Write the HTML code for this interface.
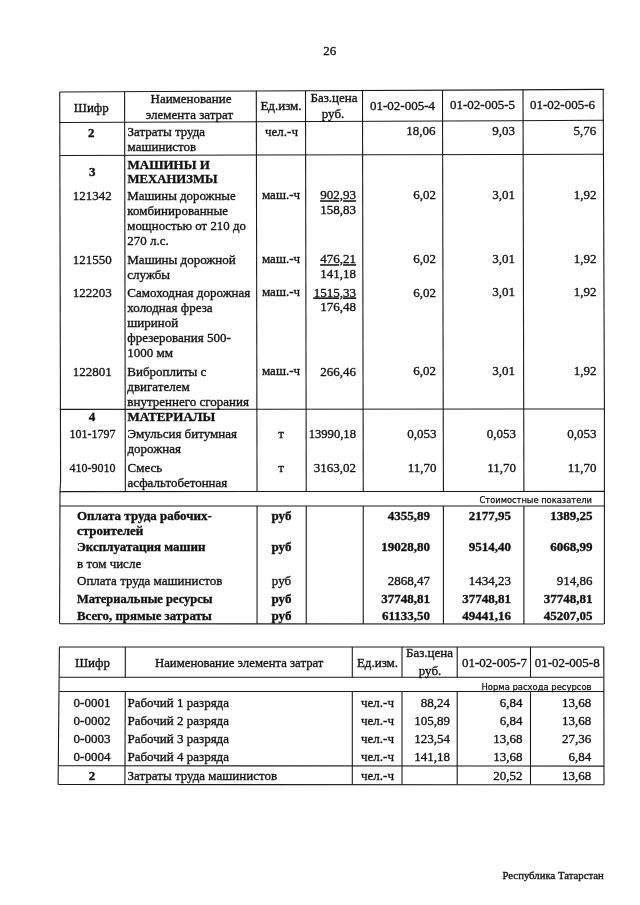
<!DOCTYPE html>
<html lang="ru"><head><meta charset="utf-8"><title>26</title>
<style>
html,body{margin:0;padding:0;background:#fff}
body{width:640px;height:905px;overflow:hidden}
svg{display:block}
.t{font-family:"Liberation Serif","DejaVu Serif",serif;fill:#111;stroke:#111;stroke-width:.33px}
.s{font-family:"DejaVu Sans Condensed","DejaVu Sans","Liberation Sans",sans-serif;fill:#111;stroke:#111;stroke-width:.25px}
.b{font-weight:bold}
.u{text-decoration:underline}
</style></head><body>
<svg width="640" height="905" viewBox="0 0 640 905">
<rect width="640" height="905" fill="#fff"/>
<g stroke-linecap="butt">
<line x1="59.80" y1="92.00" x2="604.00" y2="89.40" stroke="#1a1a1a" stroke-width="1.10"/>
<line x1="59.80" y1="122.50" x2="604.00" y2="120.30" stroke="#1a1a1a" stroke-width="1.10"/>
<line x1="59.80" y1="155.50" x2="604.00" y2="154.30" stroke="#1a1a1a" stroke-width="1.10"/>
<line x1="59.80" y1="409.40" x2="604.00" y2="409.00" stroke="#1a1a1a" stroke-width="1.10"/>
<line x1="59.80" y1="623.80" x2="604.00" y2="624.00" stroke="#1a1a1a" stroke-width="1.10"/>
<line x1="59.80" y1="491.60" x2="604.00" y2="491.40" stroke="#1a1a1a" stroke-width="1.10"/>
<line x1="59.80" y1="506.00" x2="604.00" y2="506.00" stroke="#1a1a1a" stroke-width="1.10"/>
<line x1="59.70" y1="92.00" x2="60.60" y2="480.00" stroke="#1a1a1a" stroke-width="1.10"/>
<line x1="60.60" y1="480.00" x2="60.00" y2="492.00" stroke="#1a1a1a" stroke-width="1.10"/>
<line x1="60.00" y1="492.00" x2="59.60" y2="623.80" stroke="#1a1a1a" stroke-width="1.10"/>
<line x1="603.20" y1="89.40" x2="604.40" y2="409.00" stroke="#1a1a1a" stroke-width="1.10"/>
<line x1="604.40" y1="409.00" x2="604.40" y2="624.00" stroke="#1a1a1a" stroke-width="1.10"/>
<line x1="124.60" y1="91.69" x2="125.35" y2="491.58" stroke="#1a1a1a" stroke-width="1.10"/>
<line x1="256.30" y1="91.06" x2="257.05" y2="491.53" stroke="#1a1a1a" stroke-width="1.10"/>
<line x1="257.05" y1="506.00" x2="257.05" y2="623.87" stroke="#1a1a1a" stroke-width="1.10"/>
<line x1="305.50" y1="90.83" x2="306.25" y2="491.51" stroke="#1a1a1a" stroke-width="1.10"/>
<line x1="306.25" y1="506.00" x2="306.25" y2="623.89" stroke="#1a1a1a" stroke-width="1.10"/>
<line x1="362.50" y1="90.55" x2="363.25" y2="491.49" stroke="#1a1a1a" stroke-width="1.10"/>
<line x1="363.25" y1="506.00" x2="363.25" y2="623.91" stroke="#1a1a1a" stroke-width="1.10"/>
<line x1="442.50" y1="90.17" x2="443.40" y2="491.46" stroke="#1a1a1a" stroke-width="1.10"/>
<line x1="443.40" y1="506.00" x2="443.40" y2="623.94" stroke="#1a1a1a" stroke-width="1.10"/>
<line x1="523.00" y1="89.79" x2="523.90" y2="491.43" stroke="#1a1a1a" stroke-width="1.10"/>
<line x1="523.90" y1="506.00" x2="523.90" y2="623.97" stroke="#1a1a1a" stroke-width="1.10"/>
<line x1="59.30" y1="647.00" x2="604.00" y2="647.00" stroke="#1a1a1a" stroke-width="1.10"/>
<line x1="59.30" y1="677.30" x2="604.00" y2="677.30" stroke="#1a1a1a" stroke-width="1.10"/>
<line x1="59.30" y1="691.50" x2="604.00" y2="691.50" stroke="#1a1a1a" stroke-width="1.10"/>
<line x1="58.30" y1="765.80" x2="604.00" y2="766.10" stroke="#1a1a1a" stroke-width="1.10"/>
<line x1="58.30" y1="784.50" x2="604.00" y2="784.80" stroke="#1a1a1a" stroke-width="1.10"/>
<line x1="59.40" y1="647.00" x2="58.10" y2="784.50" stroke="#1a1a1a" stroke-width="1.10"/>
<line x1="603.80" y1="647.00" x2="604.00" y2="784.80" stroke="#1a1a1a" stroke-width="1.10"/>
<line x1="125.30" y1="647.00" x2="125.30" y2="677.30" stroke="#1a1a1a" stroke-width="1.10"/>
<line x1="125.30" y1="691.50" x2="124.90" y2="784.50" stroke="#1a1a1a" stroke-width="1.10"/>
<line x1="352.30" y1="647.00" x2="352.30" y2="677.30" stroke="#1a1a1a" stroke-width="1.10"/>
<line x1="352.30" y1="691.50" x2="352.30" y2="784.50" stroke="#1a1a1a" stroke-width="1.10"/>
<line x1="402.00" y1="647.00" x2="402.00" y2="677.30" stroke="#1a1a1a" stroke-width="1.10"/>
<line x1="402.00" y1="691.50" x2="402.00" y2="784.50" stroke="#1a1a1a" stroke-width="1.10"/>
<line x1="457.20" y1="647.00" x2="457.20" y2="677.30" stroke="#1a1a1a" stroke-width="1.10"/>
<line x1="457.20" y1="691.50" x2="457.20" y2="784.50" stroke="#1a1a1a" stroke-width="1.10"/>
<line x1="530.50" y1="647.00" x2="530.50" y2="677.30" stroke="#1a1a1a" stroke-width="1.10"/>
<line x1="530.50" y1="691.50" x2="530.50" y2="784.50" stroke="#1a1a1a" stroke-width="1.10"/>
</g>
<g>
<text class="t" x="329.7" y="54.5" font-size="13" text-anchor="middle">26</text>
<text class="t" x="91.3" y="112.4" font-size="13" text-anchor="middle">Шифр</text>
<text class="t" x="191.0" y="103.2" font-size="13" text-anchor="middle">Наименование</text>
<text class="t" x="189.5" y="118.5" font-size="13" text-anchor="middle">элемента затрат</text>
<text class="t" x="281.0" y="110.3" font-size="13" text-anchor="middle">Ед.изм.</text>
<text class="t" x="334.0" y="102.4" font-size="13" text-anchor="middle">Баз.цена</text>
<text class="t" x="333.0" y="118.0" font-size="13" text-anchor="middle">руб.</text>
<text class="t" x="402.5" y="109.6" font-size="13" text-anchor="middle">01-02-005-4</text>
<text class="t" x="482.5" y="109.3" font-size="13" text-anchor="middle">01-02-005-5</text>
<text class="t" x="562.5" y="109.0" font-size="13" text-anchor="middle">01-02-005-6</text>
<text class="t b" x="91.3" y="137.0" font-size="13" text-anchor="middle">2</text>
<text class="t" x="127.5" y="136.4" font-size="13" text-anchor="start">Затраты труда</text>
<text class="t" x="127.5" y="151.4" font-size="13" text-anchor="start">машинистов</text>
<text class="t" x="281.5" y="136.0" font-size="13" text-anchor="middle">чел.-ч</text>
<text class="t" x="435.5" y="135.2" font-size="13" text-anchor="end">18,06</text>
<text class="t" x="515.0" y="134.9" font-size="13" text-anchor="end">9,03</text>
<text class="t" x="596.3" y="135.0" font-size="13" text-anchor="end">5,76</text>
<text class="t b" x="92.3" y="175.8" font-size="13" text-anchor="middle">3</text>
<text class="t b" x="127.5" y="168.8" font-size="13" text-anchor="start">МАШИНЫ И</text>
<text class="t b" x="127.5" y="183.4" font-size="13" text-anchor="start" textLength="90.0" lengthAdjust="spacingAndGlyphs">МЕХАНИЗМЫ</text>
<text class="t" x="92.2" y="200.0" font-size="13" text-anchor="middle">121342</text>
<text class="t" x="127.3" y="200.0" font-size="13" text-anchor="start" textLength="108.4" lengthAdjust="spacingAndGlyphs">Машины дорожные</text>
<text class="t" x="127.3" y="214.9" font-size="13" text-anchor="start">комбинированные</text>
<text class="t" x="127.3" y="229.8" font-size="13" text-anchor="start" textLength="118.6" lengthAdjust="spacingAndGlyphs">мощностью от 210 до</text>
<text class="t" x="127.3" y="244.7" font-size="13" text-anchor="start">270 л.с.</text>
<text class="t" x="281.0" y="199.1" font-size="13" text-anchor="middle">маш.-ч</text>
<text class="t u" x="356.0" y="199.4" font-size="13" text-anchor="end">902,93</text>
<text class="t" x="356.0" y="213.7" font-size="13" text-anchor="end">158,83</text>
<text class="t" x="436.0" y="199.3" font-size="13" text-anchor="end">6,02</text>
<text class="t" x="515.0" y="199.1" font-size="13" text-anchor="end">3,01</text>
<text class="t" x="596.5" y="198.9" font-size="13" text-anchor="end">1,92</text>
<text class="t" x="92.2" y="263.8" font-size="13" text-anchor="middle">121550</text>
<text class="t" x="127.3" y="263.8" font-size="13" text-anchor="start">Машины дорожной</text>
<text class="t" x="127.3" y="278.7" font-size="13" text-anchor="start">службы</text>
<text class="t" x="281.0" y="262.9" font-size="13" text-anchor="middle">маш.-ч</text>
<text class="t u" x="356.0" y="263.3" font-size="13" text-anchor="end">476,21</text>
<text class="t" x="356.0" y="277.6" font-size="13" text-anchor="end">141,18</text>
<text class="t" x="436.0" y="263.2" font-size="13" text-anchor="end">6,02</text>
<text class="t" x="515.0" y="263.1" font-size="13" text-anchor="end">3,01</text>
<text class="t" x="596.5" y="262.9" font-size="13" text-anchor="end">1,92</text>
<text class="t" x="92.2" y="297.0" font-size="13" text-anchor="middle">122203</text>
<text class="t" x="127.3" y="297.0" font-size="13" text-anchor="start">Самоходная дорожная</text>
<text class="t" x="127.3" y="311.9" font-size="13" text-anchor="start">холодная фреза</text>
<text class="t" x="127.3" y="326.8" font-size="13" text-anchor="start">шириной</text>
<text class="t" x="127.3" y="341.7" font-size="13" text-anchor="start">фрезерования 500-</text>
<text class="t" x="127.3" y="356.6" font-size="13" text-anchor="start">1000 мм</text>
<text class="t" x="281.0" y="296.2" font-size="13" text-anchor="middle">маш.-ч</text>
<text class="t u" x="356.0" y="296.6" font-size="13" text-anchor="end">1515,33</text>
<text class="t" x="356.0" y="310.9" font-size="13" text-anchor="end">176,48</text>
<text class="t" x="436.0" y="296.5" font-size="13" text-anchor="end">6,02</text>
<text class="t" x="515.0" y="296.3" font-size="13" text-anchor="end">3,01</text>
<text class="t" x="596.5" y="296.2" font-size="13" text-anchor="end">1,92</text>
<text class="t" x="92.2" y="375.8" font-size="13" text-anchor="middle">122801</text>
<text class="t" x="127.3" y="375.8" font-size="13" text-anchor="start">Виброплиты с</text>
<text class="t" x="127.3" y="390.7" font-size="13" text-anchor="start">двигателем</text>
<text class="t" x="127.3" y="405.6" font-size="13" text-anchor="start">внутреннего сгорания</text>
<text class="t" x="281.0" y="375.1" font-size="13" text-anchor="middle">маш.-ч</text>
<text class="t" x="356.0" y="375.5" font-size="13" text-anchor="end">266,46</text>
<text class="t" x="436.0" y="375.4" font-size="13" text-anchor="end">6,02</text>
<text class="t" x="515.0" y="375.3" font-size="13" text-anchor="end">3,01</text>
<text class="t" x="596.5" y="375.3" font-size="13" text-anchor="end">1,92</text>
<text class="t b" x="92.0" y="421.3" font-size="13" text-anchor="middle">4</text>
<text class="t b" x="127.5" y="421.3" font-size="13" text-anchor="start">МАТЕРИАЛЫ</text>
<text class="t" x="92.5" y="438.3" font-size="13" text-anchor="middle" textLength="46.0" lengthAdjust="spacingAndGlyphs">101-1797</text>
<text class="t" x="127.5" y="438.3" font-size="13" text-anchor="start">Эмульсия битумная</text>
<text class="t" x="127.5" y="453.2" font-size="13" text-anchor="start">дорожная</text>
<text class="t" x="281.0" y="438.2" font-size="13" text-anchor="middle">т</text>
<text class="t" x="356.0" y="438.1" font-size="13" text-anchor="end" textLength="47.3" lengthAdjust="spacingAndGlyphs">13990,18</text>
<text class="t" x="436.5" y="438.1" font-size="13" text-anchor="end">0,053</text>
<text class="t" x="516.0" y="438.0" font-size="13" text-anchor="end">0,053</text>
<text class="t" x="596.5" y="437.9" font-size="13" text-anchor="end">0,053</text>
<text class="t" x="92.5" y="472.0" font-size="13" text-anchor="middle" textLength="46.0" lengthAdjust="spacingAndGlyphs">410-9010</text>
<text class="t" x="127.5" y="472.0" font-size="13" text-anchor="start">Смесь</text>
<text class="t" x="127.5" y="486.5" font-size="13" text-anchor="start">асфальтобетонная</text>
<text class="t" x="281.0" y="471.9" font-size="13" text-anchor="middle">т</text>
<text class="t" x="356.0" y="471.9" font-size="13" text-anchor="end">3163,02</text>
<text class="t" x="436.5" y="471.8" font-size="13" text-anchor="end">11,70</text>
<text class="t" x="516.0" y="471.8" font-size="13" text-anchor="end">11,70</text>
<text class="t" x="596.5" y="471.7" font-size="13" text-anchor="end">11,70</text>
<text class="s" x="592.0" y="502.9" font-size="9.3" text-anchor="end" textLength="112.5" lengthAdjust="spacingAndGlyphs">Стоимостные показатели</text>
<text class="t b" x="77.0" y="519.6" font-size="13" text-anchor="start">Оплата труда рабочих-</text>
<text class="t b" x="281.5" y="519.6" font-size="13" text-anchor="middle">руб</text>
<text class="t b" x="430.0" y="519.6" font-size="13" text-anchor="end">4355,89</text>
<text class="t b" x="511.0" y="519.6" font-size="13" text-anchor="end">2177,95</text>
<text class="t b" x="592.5" y="519.6" font-size="13" text-anchor="end">1389,25</text>
<text class="t b" x="77.0" y="534.5" font-size="13" text-anchor="start">строителей</text>
<text class="t b" x="77.0" y="551.2" font-size="13" text-anchor="start">Эксплуатация машин</text>
<text class="t b" x="281.5" y="551.2" font-size="13" text-anchor="middle">руб</text>
<text class="t b" x="430.0" y="551.2" font-size="13" text-anchor="end">19028,80</text>
<text class="t b" x="511.0" y="551.2" font-size="13" text-anchor="end">9514,40</text>
<text class="t b" x="592.5" y="551.2" font-size="13" text-anchor="end">6068,99</text>
<text class="t" x="77.0" y="567.8" font-size="13" text-anchor="start">в том числе</text>
<text class="t" x="77.0" y="585.2" font-size="13" text-anchor="start">Оплата труда машинистов</text>
<text class="t" x="281.5" y="585.2" font-size="13" text-anchor="middle">руб</text>
<text class="t" x="430.0" y="585.2" font-size="13" text-anchor="end">2868,47</text>
<text class="t" x="511.0" y="585.2" font-size="13" text-anchor="end">1434,23</text>
<text class="t" x="592.5" y="585.2" font-size="13" text-anchor="end">914,86</text>
<text class="t b" x="77.0" y="603.2" font-size="13" text-anchor="start" textLength="135.5" lengthAdjust="spacingAndGlyphs">Материальные ресурсы</text>
<text class="t b" x="281.5" y="603.2" font-size="13" text-anchor="middle">руб</text>
<text class="t b" x="430.0" y="603.2" font-size="13" text-anchor="end">37748,81</text>
<text class="t b" x="511.0" y="603.2" font-size="13" text-anchor="end">37748,81</text>
<text class="t b" x="592.5" y="603.2" font-size="13" text-anchor="end">37748,81</text>
<text class="t b" x="77.0" y="620.0" font-size="13" text-anchor="start" textLength="134.8" lengthAdjust="spacingAndGlyphs">Всего, прямые затраты</text>
<text class="t b" x="281.5" y="620.0" font-size="13" text-anchor="middle">руб</text>
<text class="t b" x="430.0" y="620.0" font-size="13" text-anchor="end">61133,50</text>
<text class="t b" x="511.0" y="620.0" font-size="13" text-anchor="end">49441,16</text>
<text class="t b" x="592.5" y="620.0" font-size="13" text-anchor="end">45207,05</text>
<text class="t" x="92.5" y="666.6" font-size="13" text-anchor="middle">Шифр</text>
<text class="t" x="239.2" y="666.6" font-size="13" text-anchor="middle" textLength="168.5" lengthAdjust="spacingAndGlyphs">Наименование элемента затрат</text>
<text class="t" x="377.5" y="666.6" font-size="13" text-anchor="middle">Ед.изм.</text>
<text class="t" x="429.5" y="657.0" font-size="13" text-anchor="middle">Баз.цена</text>
<text class="t" x="430.0" y="675.0" font-size="13" text-anchor="middle">руб.</text>
<text class="t" x="494.5" y="666.6" font-size="13" text-anchor="middle">01-02-005-7</text>
<text class="t" x="567.2" y="666.6" font-size="13" text-anchor="middle">01-02-005-8</text>
<text class="s" x="591.5" y="689.5" font-size="9.3" text-anchor="end" textLength="110.0" lengthAdjust="spacingAndGlyphs">Норма расхода ресурсов</text>
<text class="t" x="92.0" y="706.5" font-size="13" text-anchor="middle">0-0001</text>
<text class="t" x="127.5" y="706.5" font-size="13" text-anchor="start">Рабочий 1 разряда</text>
<text class="t" x="377.5" y="706.5" font-size="13" text-anchor="middle">чел.-ч</text>
<text class="t" x="450.0" y="706.5" font-size="13" text-anchor="end">88,24</text>
<text class="t" x="522.5" y="706.5" font-size="13" text-anchor="end">6,84</text>
<text class="t" x="591.3" y="706.5" font-size="13" text-anchor="end">13,68</text>
<text class="t" x="92.0" y="725.0" font-size="13" text-anchor="middle">0-0002</text>
<text class="t" x="127.5" y="725.0" font-size="13" text-anchor="start">Рабочий 2 разряда</text>
<text class="t" x="377.5" y="725.0" font-size="13" text-anchor="middle">чел.-ч</text>
<text class="t" x="450.0" y="725.0" font-size="13" text-anchor="end">105,89</text>
<text class="t" x="522.5" y="725.0" font-size="13" text-anchor="end">6,84</text>
<text class="t" x="591.3" y="725.0" font-size="13" text-anchor="end">13,68</text>
<text class="t" x="92.0" y="743.2" font-size="13" text-anchor="middle">0-0003</text>
<text class="t" x="127.5" y="743.2" font-size="13" text-anchor="start">Рабочий 3 разряда</text>
<text class="t" x="377.5" y="743.2" font-size="13" text-anchor="middle">чел.-ч</text>
<text class="t" x="450.0" y="743.2" font-size="13" text-anchor="end">123,54</text>
<text class="t" x="522.5" y="743.2" font-size="13" text-anchor="end">13,68</text>
<text class="t" x="591.3" y="743.2" font-size="13" text-anchor="end">27,36</text>
<text class="t" x="92.0" y="761.0" font-size="13" text-anchor="middle">0-0004</text>
<text class="t" x="127.5" y="761.0" font-size="13" text-anchor="start">Рабочий 4 разряда</text>
<text class="t" x="377.5" y="761.0" font-size="13" text-anchor="middle">чел.-ч</text>
<text class="t" x="450.0" y="761.0" font-size="13" text-anchor="end">141,18</text>
<text class="t" x="522.5" y="761.0" font-size="13" text-anchor="end">13,68</text>
<text class="t" x="591.3" y="761.0" font-size="13" text-anchor="end">6,84</text>
<text class="t b" x="92.0" y="780.2" font-size="13" text-anchor="middle">2</text>
<text class="t" x="127.5" y="780.2" font-size="13" text-anchor="start">Затраты труда машинистов</text>
<text class="t" x="377.5" y="780.2" font-size="13" text-anchor="middle">чел.-ч</text>
<text class="t" x="522.5" y="780.2" font-size="13" text-anchor="end">20,52</text>
<text class="t" x="591.3" y="780.2" font-size="13" text-anchor="end">13,68</text>
<text class="t" x="603.8" y="879.0" font-size="11" text-anchor="end" textLength="101.3" lengthAdjust="spacingAndGlyphs">Республика Татарстан</text>
</g>
</svg>
</body></html>
